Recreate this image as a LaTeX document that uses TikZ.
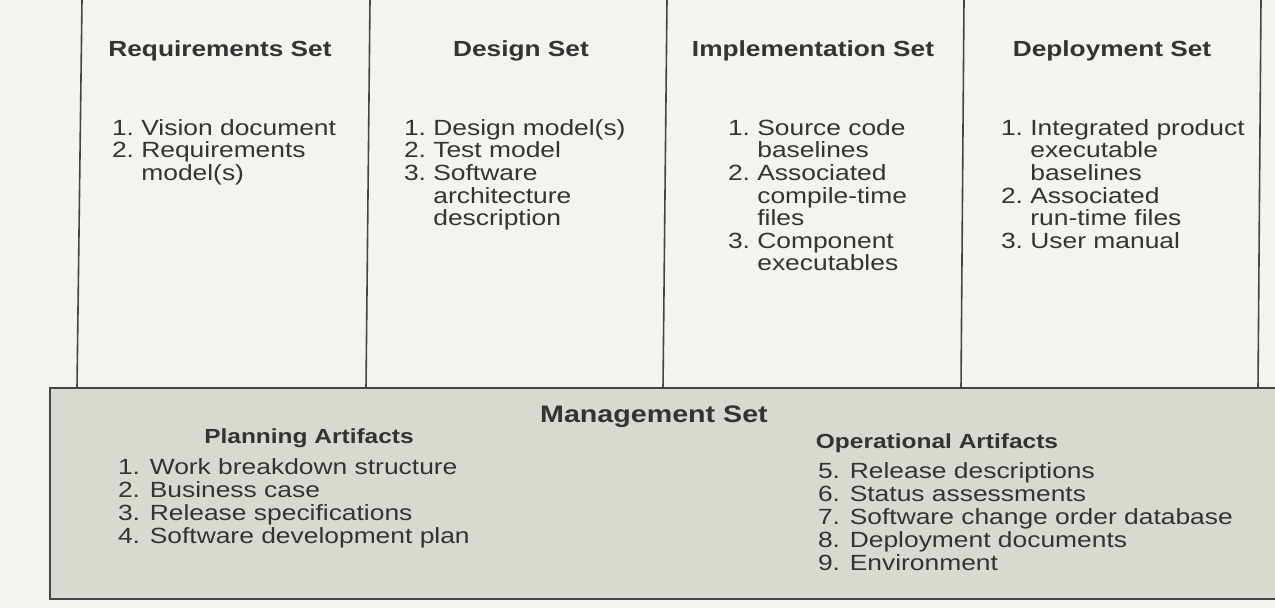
\documentclass[tikz,border=0pt]{standalone}
\usepackage{fontspec}
\setmainfont[FakeStretch=1.2]{Liberation Sans}
\definecolor{ink}{HTML}{333333}
\definecolor{paper}{HTML}{F4F3EE}
\definecolor{boxfill}{HTML}{D9D8D1}
\definecolor{rule}{HTML}{444444}
\newcommand{\bodyfont}{\fontsize{16.5}{16.875}\selectfont}
\newcommand{\mgfont}{\fontsize{16.5}{17.4}\selectfont}
\begin{document}
\begin{tikzpicture}[x=0.75pt,y=-0.75pt,
  txt/.style={inner sep=0pt,outer sep=0pt,text=ink},
  colhead/.style={txt,anchor=base,font=\fontsize{16.4}{18}\selectfont\bfseries},
  subhead/.style={txt,anchor=base,font=\fontsize{15.3}{17}\selectfont\bfseries},
  mainhead/.style={txt,anchor=base,font=\fontsize{17.9}{20}\selectfont\bfseries},
  items/.style={txt,anchor=base west},
  sep/.style={draw=rule,line width=1.2pt},
  mbox/.style={draw=rule,line width=1.2pt,fill=boxfill,inner sep=0pt,outer sep=0pt,anchor=north west}
]
\useasboundingbox (0,0) rectangle (1275,608);
\fill[paper] (0,0) rectangle (1275,608);

% column separators
\coordinate (l1t) at (82,0);   \coordinate (l1b) at (77,388);
\coordinate (l2t) at (370,0);  \coordinate (l2b) at (366,388);
\coordinate (l3t) at (667,0);  \coordinate (l3b) at (663,388);
\coordinate (l4t) at (964,0);  \coordinate (l4b) at (961,388);
\coordinate (l5t) at (1261,0); \coordinate (l5b) at (1258,388);
\foreach \i in {1,...,5} {\draw[sep] (l\i t) -- (l\i b);}

% headings
\node[colhead] (reqh) at (220,56) {Requirements Set};
\node[colhead] (desh) at (521,56) {Design Set};
\node[colhead] (imph) at (813,56) {Implementation Set};
\node[colhead] (deph) at (1112,56) {Deployment Set};

% lists
\node[items] (reql) at (112,135) {\bodyfont\begin{tabular}[t]{@{}r@{\ }l@{}}
1. & Vision document\\
2. & Requirements\\
   & model(s)
\end{tabular}};
\node[items] (desl) at (404,135) {\bodyfont\begin{tabular}[t]{@{}r@{\ }l@{}}
1. & Design model(s)\\
2. & Test model\\
3. & Software\\
   & architecture\\
   & description
\end{tabular}};
\node[items] (impl) at (728,135) {\bodyfont\begin{tabular}[t]{@{}r@{\ }l@{}}
1. & Source code\\
   & baselines\\
2. & Associated\\
   & compile-time\\
   & files\\
3. & Component\\
   & executables
\end{tabular}};
\node[items] (depl) at (1001,135) {\bodyfont\begin{tabular}[t]{@{}r@{\ }l@{}}
1. & Integrated product\\
   & executable\\
   & baselines\\
2. & Associated\\
   & run-time files\\
3. & User manual
\end{tabular}};

% management set box
\node[mbox,minimum width=1240*0.75pt,minimum height=211*0.75pt] (mgmt) at (50,388) {};
\node[mainhead] (mgh) at (654,422) {Management Set};
\node[subhead] (plh) at (309,443) {Planning Artifacts};
\node[subhead] (oph) at (937,448) {Operational Artifacts};
\node[items] (pll) at (118,474) {\mgfont\begin{tabular}[t]{@{}l@{}}
1. Work breakdown structure\\
2. Business case\\
3. Release specifications\\
4. Software development plan
\end{tabular}};
\node[items] (opl) at (818,478) {\mgfont\begin{tabular}[t]{@{}l@{}}
5. Release descriptions\\
6. Status assessments\\
7. Software change order database\\
8. Deployment documents\\
9. Environment
\end{tabular}};
\end{tikzpicture}
\end{document}
